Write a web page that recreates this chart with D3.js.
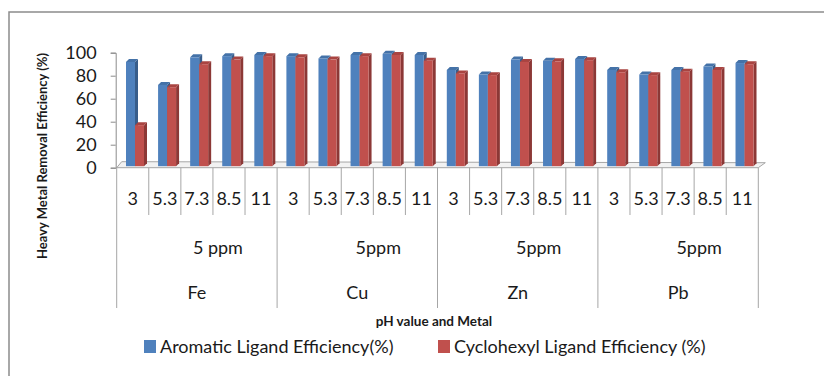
<!DOCTYPE html>
<html>
<head>
<meta charset="utf-8">
<script src="https://cdn.jsdelivr.net/npm/d3@7"></script>
<style>
  body { margin: 0; background: #fff; }
  svg { display: block; }
  text { font-family: Lato, "Open Sans", sans-serif; fill: #1a1a1a; }
</style>
</head>
<body>
<svg id="svg1" width="824" height="376"></svg>
<script>
var metals = ["Fe", "Cu", "Zn", "Pb"];
var concLabels = ["5 ppm", "5ppm", "5ppm", "5ppm"];
var phValues = ["3", "5.3", "7.3", "8.5", "11"];

// efficiency (%) per metal, pH 3 .. 11
var aromatic = [92, 72, 96, 97, 98,
                97, 95, 98, 99, 98,
                85, 81, 94, 93, 94.5,
                85, 81, 85, 88, 91];
var cyclohexyl = [37, 70, 90, 94, 97,
                  96, 94, 97, 98, 93,
                  82, 80.5, 92, 92.5, 93.5,
                  83, 80.5, 83.5, 85, 90];

var yTicks = [0, 20, 40, 60, 80, 100];

var seriesNames = ["Aromatic Ligand Efficiency(%)", "Cyclohexyl Ligand Efficiency (%)"];
var colors = ["#4f81bd", "#c0504d"];
var sideColors = ["#385d8a", "#8c3836"];
var topColors = ["#4472a8", "#a94441"];

var svg = d3.select('svg');

// frame
svg.append('path')
   .attr('d', 'M9,376 L9,12 L824,12')
   .attr('fill', 'none')
   .attr('stroke', '#8c8c8c')
   .attr('stroke-width', 1.5);

var cats = [];
metals.forEach(function(m, i) {
  phValues.forEach(function(p, j) {
    cats.push({ metal: m, ph: p, idx: i * 5 + j, a: aromatic[i * 5 + j], c: cyclohexyl[i * 5 + j] });
  });
});

var x = d3.scaleBand().domain(d3.range(cats.length)).range([116.7, 758.3]).padding(0);
var bw = x.bandwidth();
var y = d3.scaleLinear().domain([0, 100]).range([167.7, 52.7]);

var depthX = 3, depthY = 3;

// floor
var fx0 = x.range()[0], fx1 = x.range()[1], fy = y(0);
svg.append('polygon')
   .attr('points', [[fx0, fy], [fx1, fy], [fx1 + 7, fy - 5], [fx0 + 5, fy - 6]].join(' '))
   .attr('fill', '#f2f2f2')
   .attr('stroke', '#a6a6a6')
   .attr('stroke-width', 1);

// y axis
var yAxis = d3.axisLeft(y).tickValues(yTicks).tickSize(5).tickPadding(14);
var gy = svg.append('g').attr('transform', 'translate(115.7,0)').call(yAxis);
gy.select('.domain').attr('stroke', '#8c8c8c');
gy.selectAll('.tick line').attr('stroke', '#8c8c8c');
gy.selectAll('.tick text')
  .attr('font-size', 18)
  .attr('font-family', 'Lato, sans-serif')
  .attr('fill', '#1a1a1a');

// bars
function drawBar(g, x0, w, v, k) {
  var top = y(v), bottom = y(0) - 1.5;
  g.append('polygon')
   .attr('points', [[x0 + w, top], [x0 + w + depthX, top - depthY], [x0 + w + depthX, bottom - depthY], [x0 + w, bottom]].join(' '))
   .attr('fill', sideColors[k]);
  g.append('polygon')
   .attr('points', [[x0, top], [x0 + depthX, top - depthY], [x0 + w + depthX, top - depthY], [x0 + w, top]].join(' '))
   .attr('fill', topColors[k]);
  g.append('rect')
   .attr('x', x0).attr('y', top)
   .attr('width', w).attr('height', bottom - top)
   .attr('fill', colors[k]);
}

var barG = svg.append('g');
cats.forEach(function(d) {
  var bx = x(d.idx);
  drawBar(barG, bx + 9.3, 9, d.a, 0);
  drawBar(barG, bx + 18.3, 9, d.c, 1);
});

// category grid lines under the axis
var grid = svg.append('g').attr('stroke', '#a6a6a6').attr('stroke-width', 1);
d3.range(cats.length + 1).forEach(function(i) {
  var xx = i < cats.length ? x(i) : x.range()[1];
  var long = (i % 5 === 0);
  grid.append('line')
      .attr('x1', xx).attr('x2', xx)
      .attr('y1', y(0)).attr('y2', long ? 308 : 215);
});

// pH labels
svg.append('g').selectAll('text')
   .data(cats).enter().append('text')
   .attr('x', function(d) { return x(d.idx) + bw / 2; })
   .attr('y', 205)
   .attr('text-anchor', 'middle')
   .attr('font-size', 18)
   .text(function(d) { return d.ph; });

// concentration + metal labels
metals.forEach(function(m, i) {
  var gx = (x(i * 5) + x(i * 5) + bw * 5) / 2;
  svg.append('text')
     .attr('x', gx + 21).attr('y', 254)
     .attr('text-anchor', 'middle')
     .attr('font-size', 18)
     .text(concLabels[i]);
  svg.append('text')
     .attr('x', gx).attr('y', 299)
     .attr('text-anchor', 'middle')
     .attr('font-size', 18)
     .text(m);
});

// axis titles
svg.append('text')
   .attr('x', 434).attr('y', 326)
   .attr('text-anchor', 'middle')
   .attr('font-size', 13.5)
   .attr('font-weight', 'bold')
   .text('pH value and Metal');

svg.append('text')
   .attr('transform', 'translate(47,156) rotate(-90)')
   .attr('text-anchor', 'middle')
   .attr('font-size', 13)
   .attr('font-weight', 'bold')
   .text('Heavy Metal Removal Efficiency (%)');

// legend
var legendX = [144, 438];
seriesNames.forEach(function(s, k) {
  svg.append('rect')
     .attr('x', legendX[k]).attr('y', 340)
     .attr('width', 12).attr('height', 13)
     .attr('fill', colors[k]);
  svg.append('text')
     .attr('x', legendX[k] + 16).attr('y', 353)
     .attr('font-size', 18)
     .text(s);
});
</script>
</body>
</html>
